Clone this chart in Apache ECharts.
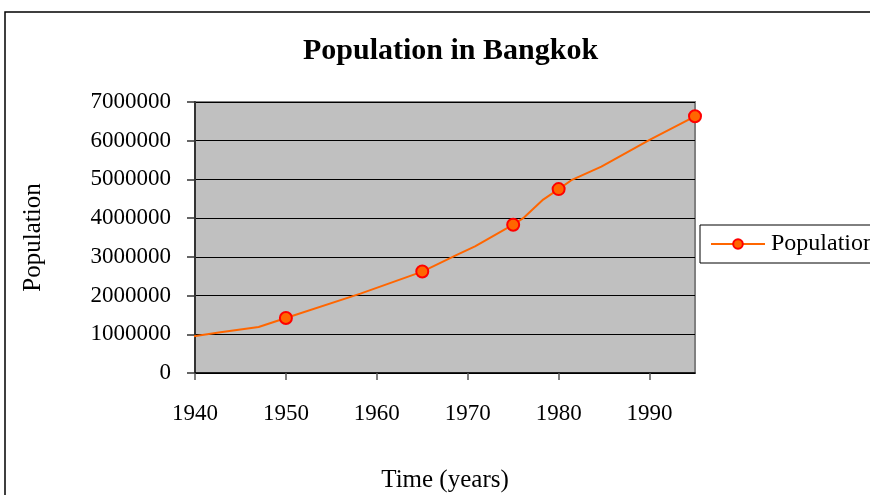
<!DOCTYPE html>
<html>
<head>
<meta charset="utf-8">
<script src="https://cdn.jsdelivr.net/npm/echarts@6/dist/echarts.min.js"></script>
<style>html,body{margin:0;padding:0;background:#fff}#c{width:870px;height:495px}</style>
</head>
<body>
<div id="c"></div>
<script>
// Line path (years, population)
const years = [1939.4, 1942.8, 1947.0, 1950, 1958.2, 1965, 1968.8, 1970.8, 1975, 1976.1, 1978.3, 1980, 1981.4, 1984.7, 1990.0, 1995];
const population = [930000, 1050000, 1190000, 1420000, 2050000, 2620000, 3050000, 3270000, 3830000, 4000000, 4480000, 4750000, 4980000, 5330000, 6020000, 6630000];
// Years that carry a visible marker
const markerYears = [1950, 1965, 1975, 1980, 1995];
const xTicks = [1940, 1950, 1960, 1970, 1980, 1990];
const yTicks = [0, 1000000, 2000000, 3000000, 4000000, 5000000, 6000000, 7000000];

const seriesData = years.map((y, i) => {
  const item = { value: [y, population[i]] };
  if (!markerYears.includes(y)) item.symbol = 'none';
  return item;
});

const serif = 'Liberation Serif';
const chart = echarts.init(document.getElementById('c'), null, { renderer: 'canvas' });
chart.setOption({
  backgroundColor: '#fff',
  animation: false,
  graphic: [{
    type: 'rect', z: -10,
    shape: { x: 5, y: 12, width: 900, height: 520 },
    style: { fill: 'none', stroke: '#000', lineWidth: 1.5 }
  }],
  title: {
    text: 'Population in Bangkok',
    left: 298, top: 31,
    textStyle: { fontFamily: serif, fontWeight: 'bold', fontSize: 30, color: '#000' }
  },
  legend: {
    left: 700, top: 225,
    orient: 'vertical',
    data: ['Population'],
    borderColor: '#000', borderWidth: 1,
    padding: [7, 10, 7, 10],
    itemWidth: 54, itemHeight: 12, itemGap: 0,
    textStyle: { fontFamily: serif, fontSize: 24, color: '#000', padding: [0, 0, 0, 1] }
  },
  grid: {
    left: 195, right: 175, top: 102, bottom: 122,
    outerBoundsMode: 'none',
    show: true, backgroundColor: '#c0c0c0', borderColor: '#808080', borderWidth: 2
  },
  xAxis: {
    type: 'value', min: 1940, max: 1995, interval: 10,
    name: 'Time (years)', nameLocation: 'middle', nameGap: 95,
    nameTextStyle: { fontFamily: serif, fontSize: 25, color: '#000' },
    axisLine: { onZero: false, lineStyle: { color: '#000', width: 1.5 } },
    axisTick: { customValues: xTicks, length: 7, lineStyle: { color: '#555', width: 1.5 } },
    axisLabel: { customValues: xTicks, fontFamily: serif, fontSize: 23, color: '#000', margin: 29,
      formatter: v => String(v) },
    splitLine: { show: false }
  },
  yAxis: {
    type: 'value', min: 0, max: 7000000, interval: 1000000,
    name: 'Population', nameLocation: 'middle', nameGap: 149, nameRotate: 90,
    nameTextStyle: { fontFamily: serif, fontSize: 25, color: '#000' },
    axisLine: { show: true, lineStyle: { color: '#333', width: 2 } },
    axisTick: { show: true, length: 8, lineStyle: { color: '#333', width: 1.5 } },
    axisLabel: { fontFamily: serif, fontSize: 23, color: '#000', margin: 24,
      formatter: v => yTicks.includes(v) ? String(v) : '' },
    splitLine: { show: true, lineStyle: { color: '#000', width: 1.2 } }
  },
  series: [{
    name: 'Population',
    type: 'line',
    clip: false,
    data: seriesData,
    symbol: 'circle', symbolSize: 12,
    lineStyle: { color: '#ff6600', width: 2 },
    itemStyle: { color: '#ff6600', borderColor: '#ff0000', borderWidth: 2 }
  }]
});
</script>
</body>
</html>
